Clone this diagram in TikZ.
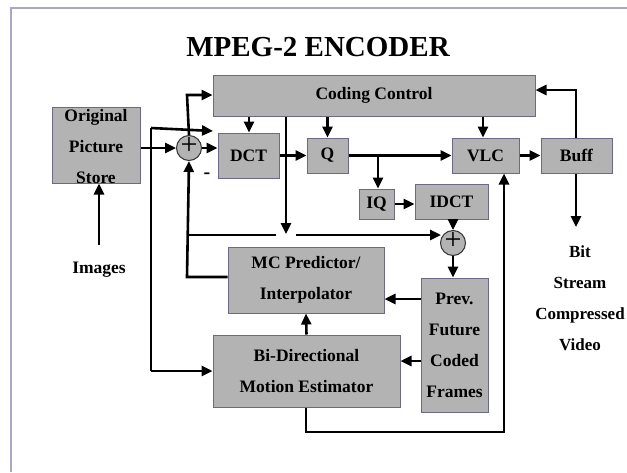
\documentclass[tikz,border=0pt]{standalone}
\usepackage{fontspec}
\setmainfont{Liberation Serif}
\usetikzlibrary{arrows.meta}
\definecolor{boxfill}{HTML}{B3B3B3}
\definecolor{boxline}{HTML}{6A6A88}
\definecolor{framec}{HTML}{A8A8C4}
\tikzset{
  blk/.style={draw=boxline, fill=boxfill, line width=1pt, inner sep=0pt, align=center,
    font=\fontsize{17.5}{31}\selectfont\bfseries},
  sumc/.style={circle, draw=black!80, fill=boxfill, line width=1pt, minimum size=25pt, inner sep=0pt},
  lbl/.style={font=\fontsize{17.5}{31}\selectfont\bfseries, align=center, inner sep=0pt},
  ar/.style={line width=2.6pt, -{Triangle[length=11pt,width=10pt]}},
  ln/.style={line width=2.6pt},
}
\begin{document}
\begin{tikzpicture}[x=1pt,y=-1pt]
\useasboundingbox (0,0) rectangle (627,472);
% frame
\draw[framec, line width=1.5pt] (11,472) -- (11,8) -- (627,8);
% title
\node[font=\fontsize{29}{32}\selectfont\bfseries] (title) at (318,47) {MPEG-2 ENCODER};
% blocks
\node[blk, minimum width=88pt, minimum height=76pt] (ops) at (96,145) {};
\node[lbl] (opstxt) at (96,147) {Original\\Picture\\Store};
\node[sumc] (s1) at (189,148) {};
\node (s1p) at (189,146.5) {\fontsize{30}{30}\selectfont +};
\node[blk, minimum width=61pt, minimum height=45pt] (dct) at (248.5,155.5) {DCT};
\node[blk, minimum width=322pt, minimum height=41pt] (cc) at (374,95.5) {Coding Control};
\node[blk, minimum width=41pt, minimum height=35pt] (q) at (327.5,155.5) {Q};
\node[blk, minimum width=67pt, minimum height=35pt] (vlc) at (485.5,155.5) {VLC};
\node[blk, minimum width=71pt, minimum height=35pt] (buff) at (576.5,155.5) {Buff};
\node[blk, minimum width=35pt, minimum height=30pt] (iq) at (376.5,204) {IQ};
\node[blk, minimum width=73pt, minimum height=35pt] (idct) at (451.5,201.5) {IDCT};
\node[sumc] (s2) at (453,243) {};
\node (s2p) at (453,241.5) {\fontsize{30}{30}\selectfont +};
\node[blk, minimum width=156pt, minimum height=66pt] (mc) at (306,280) {MC Predictor/\\Interpolator};
\node[blk, minimum width=187pt, minimum height=72pt] (me) at (306.5,371) {Bi-Directional\\Motion Estimator};
\node[blk, minimum width=67pt, minimum height=134pt] (pf) at (454.5,345) {Prev.\\Future\\Coded\\Frames};
% labels
\node[lbl] (img) at (99,270) {Images};
\node[lbl, font=\fontsize{17}{31}\selectfont\bfseries] (bit) at (580,298) {Bit\\Stream\\Compressed\\Video};
\node[font=\fontsize{20}{20}\selectfont\bfseries] (minus) at (207,176) {-};
% coordinates
\coordinate (imgtop) at (99,245);
\coordinate (ctl) at (187,95);
\coordinate (lx1) at (151,128);
\coordinate (lx1e) at (213,131);
\coordinate (lx2) at (151,371);
\coordinate (mcl) at (187,277);
\coordinate (hl) at (187,235);
\coordinate (gapA) at (276,235);
\coordinate (gapB) at (296,235);
\coordinate (s2in) at (441,235);
\coordinate (qbr) at (378,155.5);
\coordinate (bt) at (576,90);
\coordinate (bitar) at (576,227);
\coordinate (cclong) at (286,234);
\coordinate (mvA) at (306,432);
\coordinate (mvB) at (504,432);
% connectors
\draw[ar] (imgtop) -- (ops.south -| imgtop);
\draw[ar] (ops.east |- s1) -- (s1.west);
\draw[ar] (s1.east) -- (dct.west |- s1);
\draw[ar] (s1.north) -- (ctl) -- (cc.west |- ctl);
\draw[ar] (lx2) -- (me.west |- lx2);
\draw[ln] (lx2) -- (lx1);
\draw[ar] (lx1) -- (lx1e);
\draw[ar] (mc.west |- mcl) -- (mcl) -- (s1.south);
\draw[ln] (hl) -- (gapA);
\draw[ar] (gapB) -- (s2in);
\draw[ar] (cc.south -| cclong) -- (cclong);
\draw[ar] (cc.south -| 249,0) -- (dct.north -| 249,0);
\draw[ar] (q.north |- cc.south) -- (q.north);
\draw[ar] (cc.south -| 483,0) -- (vlc.north -| 483,0);
\draw[ar] (dct.east |- q) -- (q.west);
\draw[ar] (q.east) -- (vlc.west);
\draw[ar] (qbr) -- (iq.north -| qbr);
\draw[ar] (iq.east) -- (idct.west |- iq);
\draw[ar] (idct.south -| s2) -- (s2.north);
\draw[ar] (s2.south) -- (pf.north -| s2);
\draw[ar] (vlc.east) -- (buff.west);
\draw[ar] (buff.north -| bt) -- (bt) -- (cc.east |- bt);
\draw[ar] (buff.south -| bitar) -- (bitar);
\draw[ar] (pf.west |- 0,299) -- (mc.east |- 0,299);
\draw[ar] (pf.west |- 0,361) -- (me.east |- 0,361);
\draw[ar] (me.north) -- (mc.south);
\draw[ar] (me.south -| mvA) -- (mvA) -- (mvB) -- (vlc.south -| mvB);
\end{tikzpicture}
\end{document}
